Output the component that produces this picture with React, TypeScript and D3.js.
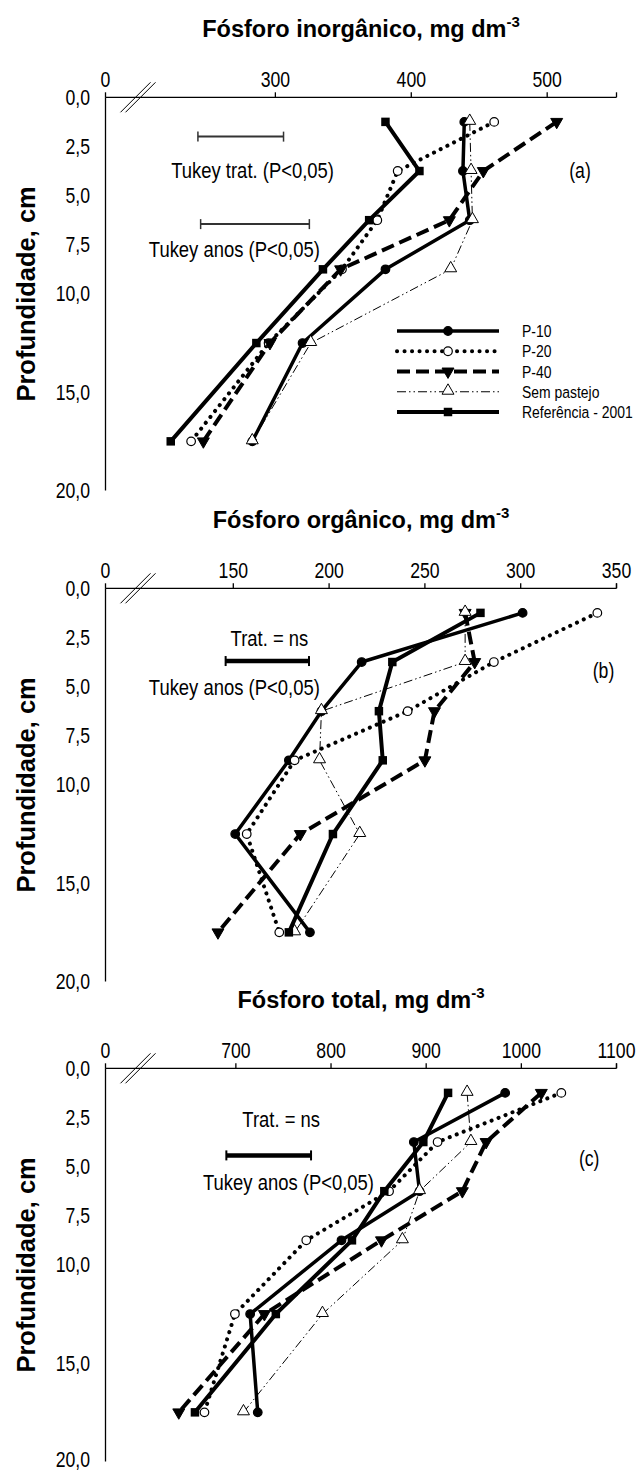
import React from 'react';
import * as d3 from 'd3';

// depths (cm) of sampled layers
const depths = [1.25, 3.75, 6.25, 8.75, 12.5, 17.5];
const seriesNames = ['P-10', 'P-20', 'P-40', 'Sem pastejo', 'Referência - 2001'];

// Fósforo inorgânico
const inorgP10 = [439, 438, 443, 381, 320, 283];
const inorgP20 = [461, 390, 375, 349, 295, 238];
const inorgP40 = [507, 453, 428, 348, 296, 247];
const inorgSem = [443, 444, 445, 429, 326, 283];
const inorgRef = [381, 406, 369, 335, 286, 223];

// Fósforo orgânico
const orgP10 = [301, 217, 196, 179, 151, 190];
const orgP20 = [340, 286, 241, 182, 157, 174];
const orgP40 = [271, 276, 255, 250, 185, 142];
const orgSem = [271, 271, 196, 195, 216, 182];
const orgRef = [279, 233, 226, 228, 202, 179];

// Fósforo total
const totP10 = [983, 887, 893, 811, 715, 723];
const totP20 = [1042, 912, 861, 774, 699, 667];
const totP40 = [1021, 963, 938, 853, 730, 640];
const totSem = [943, 947, 893, 875, 791, 708];
const totRef = [923, 897, 856, 822, 742, 657];

const depthTicks = [0, 2.5, 5, 7.5, 10, 15, 20];
const depthTickLabels = ['0,0', '2,5', '5,0', '7,5', '10,0', '15,0', '20,0'];

const inorgTicks = [300, 400, 500];
const orgTicks = [150, 200, 250, 300, 350];
const totTicks = [700, 800, 900, 1000, 1100];

// Tukey bars (data units)
const inorgTukeyTrat = [243, 306];
const inorgTukeyAnos = [245, 325];
const orgTukeyAnos = [146, 189.5];
const totTukeyAnos = [690, 779];

const FONT = "'Liberation Sans', Arial, Helvetica, sans-serif";
const NARROW = 0.82;
const H = 1472;

const styles = [
  { dash: undefined, width: 3.5, cap: 'butt', marker: 'circle', fill: '#000' },
  { dash: '0.1 7.4', width: 4, cap: 'round', marker: 'circle', fill: '#fff' },
  { dash: '13 6', width: 4, cap: 'butt', marker: 'down', fill: '#000' },
  { dash: '9 3 1.5 3 1.5 3', width: 1, cap: 'butt', marker: 'up', fill: '#fff' },
  { dash: undefined, width: 4, cap: 'butt', marker: 'square', fill: '#000' },
];

const panels = [
  {
    title: 'Fósforo inorgânico, mg dm',
    domain: [175, 551],
    ticks: inorgTicks,
    series: [inorgP10, inorgP20, inorgP40, inorgSem, inorgRef],
    top: 97.3,
    letter: '(a)',
    letterPos: [580, 3.7],
    trat: { text: 'Tukey trat. (P<0,05)', bar: inorgTukeyTrat, barDepth: 2.0, textX: 252.6, textDepth: 3.7, thick: false },
    anos: { text: 'Tukey anos (P<0,05)', bar: inorgTukeyAnos, barDepth: 6.45, textX: 234.3, textDepth: 7.72, thick: false },
    legend: true,
  },
  {
    title: 'Fósforo orgânico, mg dm',
    domain: [83.3, 350],
    ticks: orgTicks,
    series: [orgP10, orgP20, orgP40, orgSem, orgRef],
    top: 588.3,
    letter: '(b)',
    letterPos: [603.5, 4.15],
    ns: { text: 'Trat. = ns', x: 269.4, depth: 2.53 },
    anos: { text: 'Tukey anos (P<0,05)', bar: orgTukeyAnos, barDepth: 3.7, textX: 234.3, textDepth: 5.0, thick: true },
    legend: false,
  },
  {
    title: 'Fósforo total, mg dm',
    domain: [563, 1100],
    ticks: totTicks,
    series: [totP10, totP20, totP40, totSem, totRef],
    top: 1068.3,
    letter: '(c)',
    letterPos: [589.2, 4.56],
    ns: { text: 'Trat. = ns', x: 281.2, depth: 2.59 },
    anos: { text: 'Tukey anos (P<0,05)', bar: totTukeyAnos, barDepth: 4.43, textX: 288.5, textDepth: 5.8, thick: true },
    legend: false,
  },
];

const X0 = 105.5;
const X1 = 616.5;
const PH = 393.2;

// condensed text (emulates Arial Narrow)
function NText({ x, y, size, anchor, dy, children }: any) {
  return (
    <text
      transform={`translate(${x},${y}) scale(${NARROW},1)`}
      x={0}
      y={0}
      dy={dy}
      textAnchor={anchor || 'start'}
      fontFamily={FONT}
      fontSize={size}
      fill="#000"
    >
      {children}
    </text>
  );
}

function Marker({ kind, fill, cx, cy }: any) {
  if (kind === 'circle') {
    return <circle cx={cx} cy={cy} r={4.3} fill={fill} stroke="#000" strokeWidth={1.2} />;
  }
  if (kind === 'square') {
    const p = d3.symbol(d3.symbolSquare, 72)();
    return <path d={p || ''} transform={`translate(${cx},${cy})`} fill="#000" />;
  }
  const p = d3.symbol(d3.symbolTriangle, 62)();
  if (kind === 'down') {
    return <path d={p || ''} transform={`translate(${cx},${cy}) rotate(180)`} fill="#000" stroke="#000" strokeWidth={1} />;
  }
  return <path d={p || ''} transform={`translate(${cx},${cy - 1})`} fill="#fff" stroke="#000" strokeWidth={1} />;
}

function TukeyBar({ x1, x2, y, thick }: any) {
  const sw = thick ? 4.5 : 2;
  const col = thick ? '#000' : '#333';
  return (
    <g stroke={col}>
      <line x1={x1} x2={x2} y1={y} y2={y} strokeWidth={sw} />
      <line x1={x1} x2={x1} y1={y - 5} y2={y + 5} strokeWidth={thick ? 2 : 1.5} />
      <line x1={x2} x2={x2} y1={y - 5} y2={y + 5} strokeWidth={thick ? 2 : 1.5} />
    </g>
  );
}

function Panel({ cfg }: any) {
  const x = d3.scaleLinear().domain(cfg.domain).range([X0, X1]);
  const y = d3.scaleLinear().domain([0, 20]).range([cfg.top, cfg.top + PH]);
  const line = d3
    .line<[number, number]>()
    .x((d) => x(d[0]))
    .y((d) => y(d[1]));
  const top = cfg.top;
  const midX = (X0 + X1) / 2;
  const xTicks = [cfg.domain[0], ...cfg.ticks, cfg.domain[1]];
  const tickSize = 21.5;
  return (
    <g>
      {/* title */}
      <text x={midX} y={top - 60} textAnchor="middle" fontFamily={FONT} fontWeight="bold" fontSize={23.5} fill="#000">
        {cfg.title}
        <tspan fontSize={15} dy={-10}>-3</tspan>
      </text>
      {/* y axis title */}
      <text
        transform={`translate(34.5,${y(10)}) rotate(-90)`}
        textAnchor="middle"
        fontFamily={FONT}
        fontWeight="bold"
        fontSize={25.5}
        fill="#000"
      >
        Profundidade, cm
      </text>
      {/* axes */}
      <line x1={X0} x2={X1} y1={top} y2={top} stroke="#000" strokeWidth={1.3} />
      <line x1={X0} x2={X0} y1={top} y2={y(20)} stroke="#000" strokeWidth={1.3} />
      {xTicks.map((t: number, i: number) => (
        <line key={i} x1={x(t)} x2={x(t)} y1={top} y2={top - 5} stroke="#000" strokeWidth={1.3} />
      ))}
      <NText x={X0} y={top - 10} size={tickSize} anchor="middle">0</NText>
      {cfg.ticks.map((t: number, i: number) => (
        <NText key={i} x={x(t)} y={top - 10} size={tickSize} anchor="middle">
          {t}
        </NText>
      ))}
      {depthTicks.map((t, i) => (
        <NText key={i} x={90} y={Math.min(y(t) + 0.35 * tickSize, H - 5)} size={tickSize} anchor="end">
          {depthTickLabels[i]}
        </NText>
      ))}
      {/* axis break */}
      <line x1={X0 + 15} y1={top + 15} x2={X0 + 45} y2={top - 15} stroke="#000" strokeWidth={1} />
      <line x1={X0 + 20} y1={top + 15} x2={X0 + 50} y2={top - 15} stroke="#000" strokeWidth={1} />
      {/* annotations */}
      {cfg.trat && (
        <g>
          <TukeyBar x1={x(cfg.trat.bar[0])} x2={x(cfg.trat.bar[1])} y={y(cfg.trat.barDepth)} thick={cfg.trat.thick} />
          <NText x={cfg.trat.textX} y={y(cfg.trat.textDepth)} dy="0.36em" size={22.5} anchor="middle">
            {cfg.trat.text}
          </NText>
        </g>
      )}
      {cfg.ns && (
        <NText x={cfg.ns.x} y={y(cfg.ns.depth)} dy="0.36em" size={22.5} anchor="middle">
          {cfg.ns.text}
        </NText>
      )}
      <TukeyBar x1={x(cfg.anos.bar[0])} x2={x(cfg.anos.bar[1])} y={y(cfg.anos.barDepth)} thick={cfg.anos.thick} />
      <NText x={cfg.anos.textX} y={y(cfg.anos.textDepth)} dy="0.36em" size={22.5} anchor="middle">
        {cfg.anos.text}
      </NText>
      <NText x={cfg.letterPos[0]} y={y(cfg.letterPos[1])} dy="0.36em" size={tickSize} anchor="middle">
        {cfg.letter}
      </NText>
      {/* series */}
      {cfg.series.map((vals: number[], si: number) => {
        const st = styles[si];
        const pts: [number, number][] = vals.map((v, i) => [v, depths[i]]);
        return (
          <g key={si}>
            <path
              d={line(pts) || ''}
              fill="none"
              stroke="#000"
              strokeWidth={st.width}
              strokeDasharray={st.dash}
              strokeLinecap={st.cap as any}
              strokeLinejoin="round"
            />
            {pts.map((p, i) => (
              <Marker key={i} kind={st.marker} fill={st.fill} cx={x(p[0])} cy={y(p[1])} />
            ))}
          </g>
        );
      })}
      {/* legend */}
      {cfg.legend &&
        seriesNames.map((name, i) => {
          const st = styles[i];
          const ly = top + 233.7 + i * 20.25;
          return (
            <g key={i}>
              <line
                x1={397}
                x2={499}
                y1={ly}
                y2={ly}
                stroke="#000"
                strokeWidth={st.width}
                strokeDasharray={st.dash}
                strokeLinecap={st.cap as any}
              />
              <Marker kind={st.marker} fill={st.fill} cx={448} cy={ly} />
              <NText x={522} y={ly} dy="0.36em" size={17}>
                {name}
              </NText>
            </g>
          );
        })}
    </g>
  );
}

export default function App() {
  return (
    <svg
      width={639}
      height={H}
      viewBox={`0 0 639 ${H}`}
      style={{ position: 'absolute', left: 0, top: 0, background: '#fff' }}
    >
      <rect x={0} y={0} width={639} height={H} fill="#fff" />
      {panels.map((p, i) => (
        <Panel key={i} cfg={p} />
      ))}
    </svg>
  );
}
